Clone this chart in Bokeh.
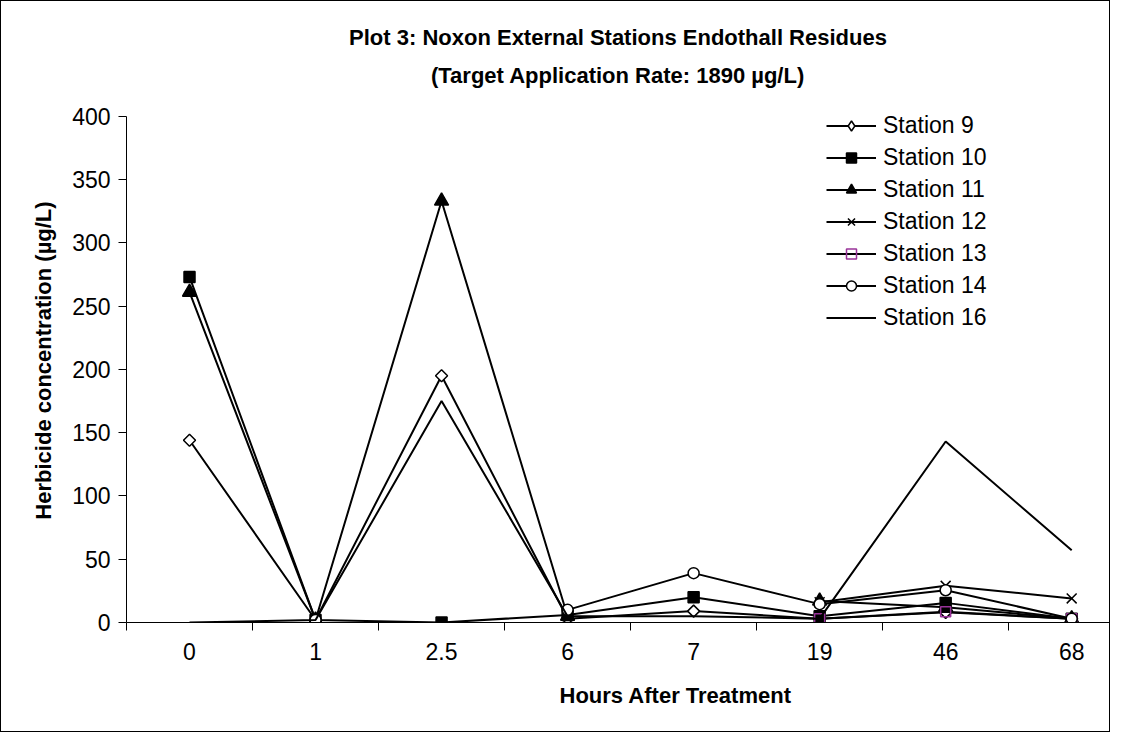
import math
from bokeh.plotting import figure
from bokeh.models import FixedTicker, Legend, LegendItem, Range1d, Title
from bokeh.embed import file_html
from bokeh.resources import INLINE

nan = float("nan")
categories = ["0", "1", "2.5", "6", "7", "19", "46", "68"]
station_9 = [144, 2, 195, 3, 9, 3, 8, 3]
station_10 = [273, 2, 0, 6, 20, 5, 15.5, 3]
station_11 = [261, 2, 333, 5, nan, 17, 12, 3]
station_12 = [nan, nan, nan, nan, nan, 16, 29, 19]
station_13 = [nan, nan, nan, nan, nan, 3, 8.5, 3]
station_14 = [nan, 2, nan, 10, 39, 14.5, 25.5, 3]
station_16 = [0, 2, 175, 5, 5, 3, 143, 57]
y_ticks = [0, 50, 100, 150, 200, 250, 300, 350, 400]

FONT = "Liberation Sans"
xs = list(range(len(categories)))

p = figure(width=1110, height=732, output_backend="svg", toolbar_location=None,
           x_range=Range1d(-0.5, 7.30), y_range=Range1d(0, 414),
           min_border_left=125, min_border_right=2, min_border_top=97, min_border_bottom=111)
p.styles = {"border": "1px solid black"}
p.outline_line_color = None
p.background_fill_color = "white"
p.border_fill_color = "white"
p.xgrid.visible = False
p.ygrid.visible = False

p.xaxis.ticker = FixedTicker(ticks=xs, minor_ticks=[i - 0.5 for i in range(len(categories) + 1)])
p.xaxis.major_label_overrides = {i: c for i, c in enumerate(categories)}
p.xaxis.major_tick_out = 0
p.xaxis.major_tick_in = 0
p.xaxis.minor_tick_out = 8
p.xaxis.minor_tick_in = 0
p.yaxis.ticker = FixedTicker(ticks=y_ticks)
p.yaxis.bounds = (0, 400)
p.yaxis.major_tick_out = 8
p.yaxis.major_tick_in = 0
p.yaxis.minor_tick_line_color = None
for ax in (p.xaxis[0], p.yaxis[0]):
    ax.axis_line_color = "black"
    ax.axis_line_width = 1
    ax.major_tick_line_color = "black"
    ax.minor_tick_line_color = "black"
    ax.major_label_text_font = FONT
    ax.major_label_text_font_size = "23px"
    ax.major_label_text_color = "black"
    ax.axis_label_text_font = FONT
    ax.axis_label_text_font_size = "22px"
    ax.axis_label_text_font_style = "bold"
    ax.axis_label_text_color = "black"
p.xaxis.major_label_standoff = 12
p.yaxis.major_label_standoff = 8
p.yaxis.axis_label = "Herbicide concentration (µg/L)"
p.yaxis.axis_label_standoff = 13

t2 = Title(text="(Target Application Rate: 1890 µg/L)", align="center", standoff=22,
           text_font=FONT, text_font_size="22px", text_font_style="bold", text_color="black")
t1 = Title(text="Plot 3: Noxon External Stations Endothall Residues", align="center", standoff=0,
           text_font=FONT, text_font_size="22px", text_font_style="bold", text_color="black")
p.add_layout(t2, "above")
p.add_layout(t1, "above")

xt = Title(text="Hours After Treatment", align="left", offset=433, standoff=36,
           text_font=FONT, text_font_size="22px", text_font_style="bold", text_color="black")
p.add_layout(xt, "below")

items = []
def add(name, ys, marker, size, fill="black", mline="black", angle=0.0, legend_marker=None, legend_size=None):
    r_line = p.line(xs, ys, line_color="black", line_width=2)
    rs = [r_line]
    if marker is not None:
        r_m = p.scatter(xs, ys, marker=marker, size=size, angle=angle, fill_color=fill,
                        line_color=mline, line_width=1.5)
        if legend_marker is not None:
            r_m = p.scatter([nan], [nan], marker=legend_marker, size=legend_size, fill_color=fill,
                            line_color=mline, line_width=1.5)
        rs.append(r_m)
    items.append(LegendItem(label=name, renderers=rs))

add("Station 9", station_9, "square", 8.5, fill="white", angle=math.pi / 4,
    legend_marker="diamond", legend_size=14)
add("Station 10", station_10, "square", 11, fill="black")
add("Station 11", station_11, "triangle", 14, fill="black")
add("Station 12", station_12, "x", 14, fill=None)
add("Station 13", station_13, "square", 10, fill=None, mline="#993399")
add("Station 14", station_14, "circle", 11, fill="white")
add("Station 16", station_16, None, 0)

leg = Legend(items=items, location=(700, 291), glyph_width=50, glyph_height=25,
             label_height=25, spacing=5, padding=0, margin=0, label_standoff=7,
             label_text_font=FONT, label_text_font_size="23px", label_text_line_height=1.0,
             label_text_color="black", border_line_color=None, background_fill_alpha=0)
p.add_layout(leg, "center")

open("out.html", "w").write(file_html(p, INLINE))
